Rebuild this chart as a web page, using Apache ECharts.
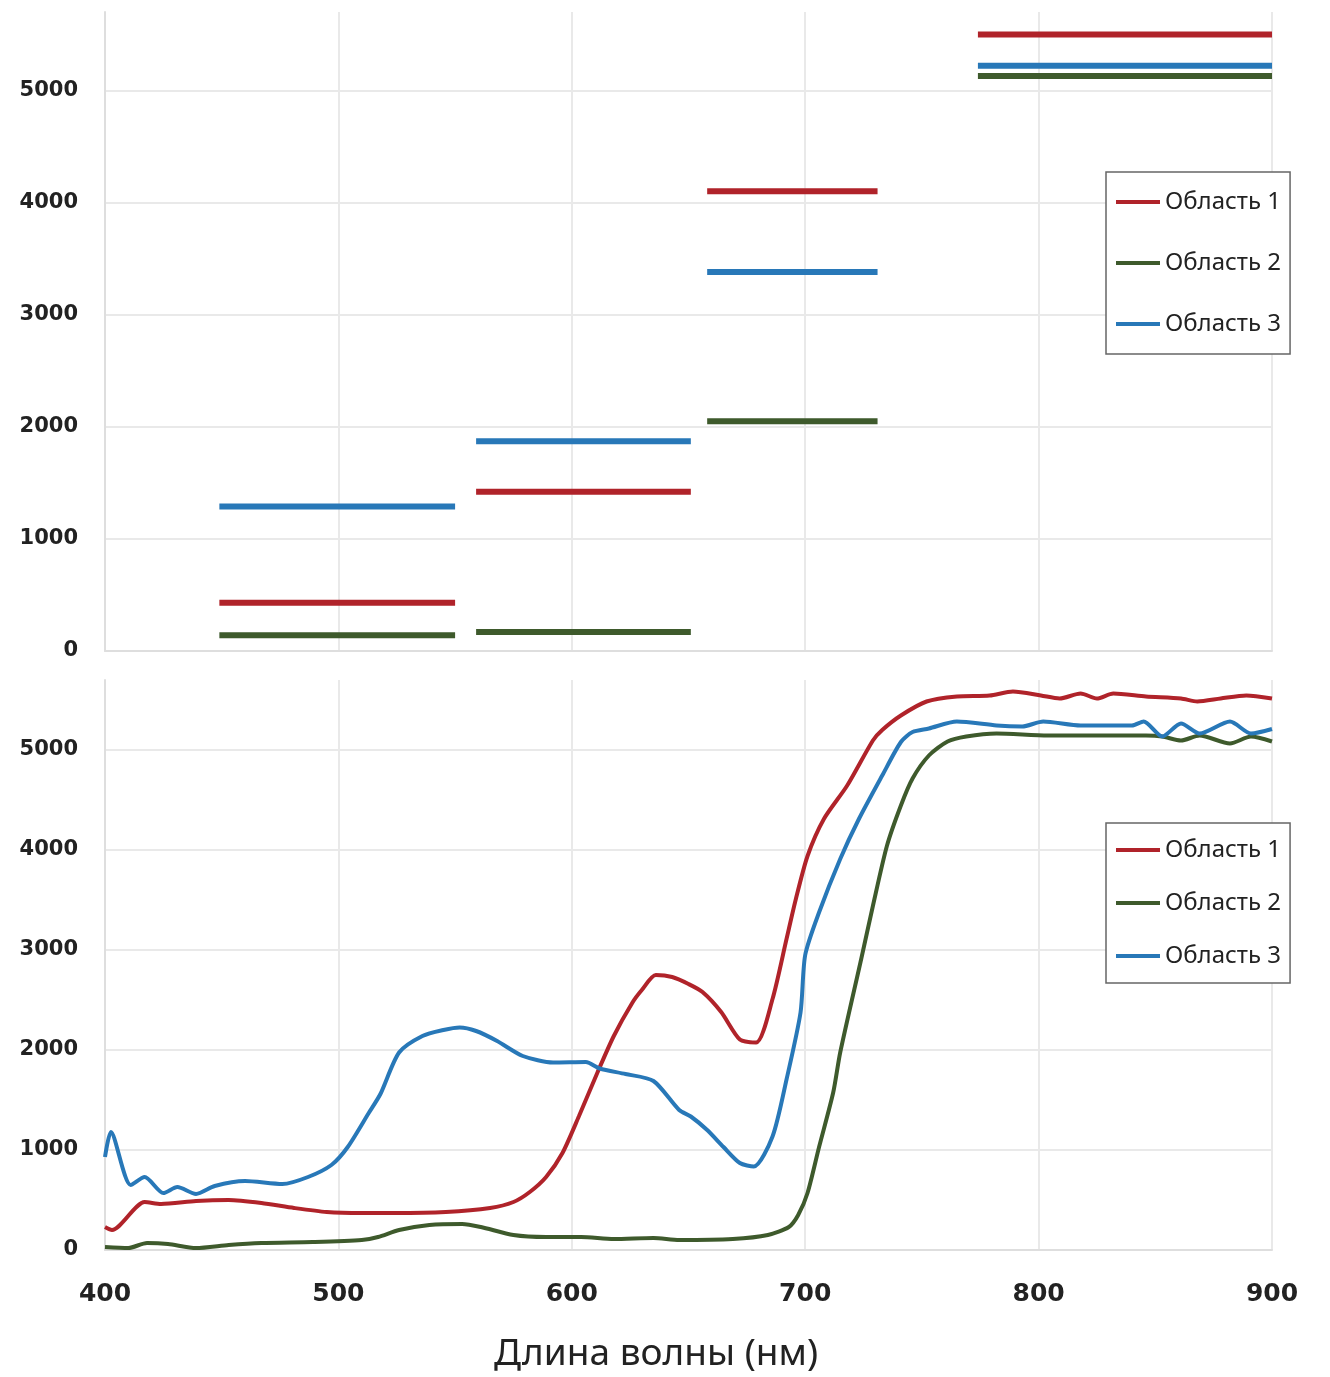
<!DOCTYPE html>
<html>
<head>
<meta charset="utf-8">
<script src="https://cdn.jsdelivr.net/npm/echarts@6/dist/echarts.min.js"></script>
<style>
  html, body { margin: 0; padding: 0; background: #fff; }
  #chart { width: 1330px; height: 1377px; }
</style>
</head>
<body>
<div id="chart"></div>
<script>
// names and colours
const regionNames = ['Область 1', 'Область 2', 'Область 3'];
const xTitle = 'Длина волны (нм)';

// upper panel: averaged value over each spectral band (nm)
const bandStart = [449, 559, 658, 774];
const bandEnd = [550, 651, 731, 900];
const bandRegion1 = [430, 1420, 4100, 5500];
const bandRegion2 = [140, 170, 2050, 5130];
const bandRegion3 = [1290, 1870, 3380, 5220];

// lower panel: spectra [wavelength, value]
const spectrum1 = [
    [400, 230], [403, 200], [417, 480], [424, 460], [439, 490], [453, 500], [467, 470],
    [481, 420], [495, 380], [510, 370], [524, 370], [546, 380], [565, 420], [575, 480],
    [582, 580], [589, 730], [596, 970], [603, 1335], [611, 1775], [618, 2140], [626, 2475],
    [630, 2600], [636, 2750], [643, 2730], [650, 2660], [656, 2580], [664, 2380], [672, 2105],
    [679, 2075], [686, 2510], [692, 3110], [696, 3510], [701, 3940], [708, 4310], [718, 4645],
    [729, 5095], [733, 5200], [741, 5345], [752, 5485], [765, 5535], [779, 5545], [789, 5585],
    [801, 5545], [809, 5515], [818, 5565], [825, 5515], [832, 5565], [846, 5535], [861, 5515],
    [868, 5485], [878, 5515], [889, 5545], [900, 5515]
];
const spectrum2 = [
    [400, 30], [410, 20], [418, 70], [427, 60], [439, 20], [453, 50], [467, 70], [489, 80],
    [510, 100], [517, 130], [526, 200], [539, 250], [553, 260], [561, 230], [575, 150],
    [589, 130], [604, 130], [618, 110], [635, 120], [646, 100], [669, 110], [684, 150],
    [693, 230], [697, 350], [701, 570], [706, 1035], [712, 1575], [715, 1975], [724, 2910],
    [729, 3440], [735, 4040], [741, 4445], [746, 4715], [753, 4945], [761, 5085], [769, 5135],
    [782, 5165], [804, 5145], [832, 5145], [846, 5145], [853, 5135], [861, 5095], [869, 5145],
    [882, 5065], [891, 5135], [900, 5085]
];
const spectrum3 = [
    [400, 930], [402.5, 1180], [411, 650], [417, 730], [425, 570], [431, 630], [439, 560],
    [447, 640], [460, 690], [476, 660], [487, 730], [497, 850], [504, 1030], [513, 1370],
    [518, 1560], [526, 1975], [536, 2140], [545, 2200], [552, 2225], [559, 2190], [568, 2090],
    [579, 1940], [592, 1875], [606, 1880], [612, 1815], [623, 1760], [635, 1690], [646, 1400],
    [651, 1335], [658, 1200], [665, 1030], [672, 870], [678, 835], [686, 1135], [692, 1705],
    [698, 2375], [700, 2950], [706, 3380], [715, 3910], [723, 4310], [733, 4745], [741, 5080],
    [746, 5180], [753, 5215], [765, 5285], [782, 5245], [793, 5235], [802, 5285], [818, 5245],
    [840, 5245], [845, 5285], [853, 5135], [861, 5265], [869, 5165], [882, 5285], [891, 5165],
    [900, 5210]
];

const colors = ['#b0232a', '#3e5a2c', '#2878b8'];

// turn band arrays into broken horizontal segments
const bandSegments = (values) => {
    const out = [];
    values.forEach((v, i) => {
        out.push([bandStart[i], v], [bandEnd[i], v]);
        if (i < values.length - 1) out.push([bandEnd[i], '-']);
    });
    return out;
};

const gridColor = '#e9e9e9';

const yAxisOpt = (gridIndex) => ({
    type: 'value',
    gridIndex: gridIndex,
    min: 0,
    max: 5700,
    interval: 1000,
    axisLine: { show: true, lineStyle: { color: '#dedede', width: 2 } },
    axisTick: { show: false },
    splitLine: { showMaxLine: false, lineStyle: { color: gridColor, width: 2 } },
    axisLabel: {
        showMaxLabel: false,
        margin: 27,
        color: '#222',
        fontFamily: 'DejaVu Sans',
        fontWeight: 'bold',
        fontSize: 21,
        formatter: (v) => String(v)
    }
});

const xAxisOpt = (gridIndex, showLabel) => ({
    type: 'value',
    gridIndex: gridIndex,
    min: 400,
    max: 900,
    interval: 100,
    axisLine: { show: true, lineStyle: { color: '#dedede', width: 2 } },
    axisTick: { show: false },
    splitLine: { show: true, lineStyle: { color: gridColor, width: 2 } },
    axisLabel: {
        show: showLabel,
        margin: 32,
        color: '#222',
        fontFamily: 'DejaVu Sans',
        fontWeight: 'bold',
        fontSize: 25,
        formatter: (v) => String(v)
    }
});

const legendOpt = (top, padV, gap) => ({
    orient: 'vertical',
    left: 1106,
    top: top,
    data: regionNames,
    icon: 'rect',
    itemWidth: 44,
    itemHeight: 4,
    itemGap: gap,
    padding: [padV, 9, padV, 10],
    borderColor: '#666',
    borderWidth: 1.5,
    backgroundColor: '#fff',
    selectedMode: false,
    textStyle: {
        color: '#222',
        fontFamily: 'Noto Sans',
        fontSize: 24,
        lineHeight: 24
    }
});

const bandSeries = [bandRegion1, bandRegion2, bandRegion3].map((vals, i) => ({
    name: regionNames[i],
    type: 'line',
    xAxisIndex: 0,
    yAxisIndex: 0,
    data: bandSegments(vals),
    showSymbol: false,
    symbol: 'none',
    color: colors[i],
    lineStyle: { width: 6, color: colors[i] }
}));

const spectrumSeries = [spectrum1, spectrum2, spectrum3].map((vals, i) => ({
    name: regionNames[i],
    type: 'line',
    xAxisIndex: 1,
    yAxisIndex: 1,
    data: vals,
    smooth: 0.25,
    showSymbol: false,
    symbol: 'none',
    color: colors[i],
    lineStyle: { width: 4, color: colors[i] }
}));

const chartOpt = () => ({
    backgroundColor: '#fff',
    animation: false,
    title: {
        text: xTitle,
        left: 489,
        top: 1331,
        textStyle: {
            fontFamily: 'Noto Sans',
            fontWeight: 'normal',
            fontSize: 37,
            color: '#222'
        }
    },
    grid: [
        { left: 105, right: 58, top: 12, height: 639 },
        { left: 105, right: 58, top: 680, height: 570 }
    ],
    xAxis: [xAxisOpt(0, false), xAxisOpt(1, true)],
    yAxis: [yAxisOpt(0), yAxisOpt(1)],
    legend: [legendOpt(172, 18, 37), legendOpt(823, 15, 29)],
    series: bandSeries.concat(spectrumSeries)
});

const chart = echarts.init(document.getElementById('chart'));
chart.setOption(chartOpt());
</script>
</body>
</html>
